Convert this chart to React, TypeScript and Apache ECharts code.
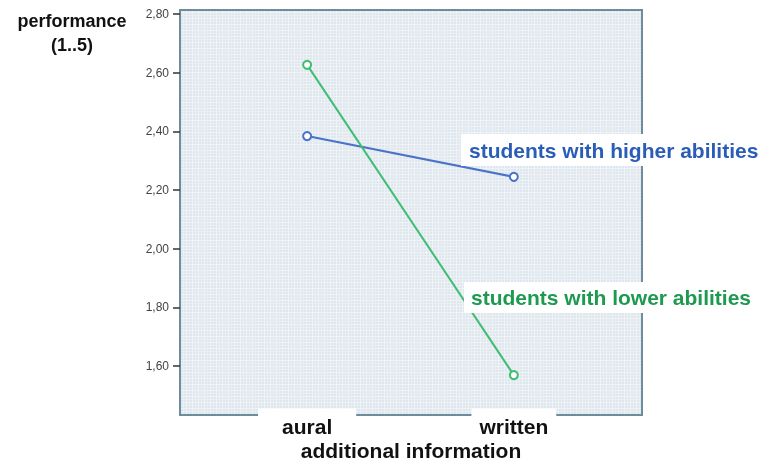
import React, { useEffect, useRef } from "react";
import * as echarts from "echarts";

const categories = ["aural", "written"];
const higherAbilities = [2.384, 2.245];
const lowerAbilities = [2.627, 1.569];
const yTicks = [1.6, 1.8, 2.0, 2.2, 2.4, 2.6, 2.8];
const seriesNames = ["students with higher abilities", "students with lower abilities"];

function makePattern(): HTMLCanvasElement {
  const c = document.createElement("canvas");
  c.width = 6;
  c.height = 6;
  const ctx = c.getContext("2d")!;
  ctx.fillStyle = "#dde7ef";
  ctx.fillRect(0, 0, 6, 6);
  ctx.fillStyle = "#f4f2f3";
  ctx.fillRect(0, 0, 6, 1);
  ctx.fillRect(0, 0, 1, 6);
  ctx.fillStyle = "#eaeff3";
  ctx.fillRect(3, 0, 1, 6);
  ctx.fillRect(0, 3, 6, 1);
  return c;
}

const FONT = "Liberation Sans, Arial, sans-serif";

export default function App() {
  const ref = useRef<HTMLDivElement>(null);
  useEffect(() => {
    if (!ref.current) return;
    const chart = echarts.init(ref.current, undefined, { renderer: "svg" });
    const xs = categories.map((_, i) => i);
    chart.setOption({
      animation: false,
      grid: {
        left: 180,
        right: 123,
        top: 10,
        bottom: 48,
        containLabel: false,
        outerBoundsMode: "none",
        show: true,
        backgroundColor: { image: makePattern(), repeat: "repeat" },
        borderColor: "#6f8c9c",
        borderWidth: 2,
      },
      xAxis: {
        type: "value",
        min: -0.615,
        max: 1.62,
        splitLine: { show: false },
        axisLine: { show: true, onZero: false, lineStyle: { color: "#6f8c9c", width: 2 } },
        axisTick: { show: false },
        axisLabel: {
          customValues: xs,
          margin: -2,
          formatter: (v: number) => {
            const i = Math.round(v);
            return i === 0 ? `{a|${categories[0]}}` : `{w|${categories[1]}}`;
          },
          rich: {
            a: {
              fontFamily: FONT,
              fontWeight: "bold",
              fontSize: 21,
              lineHeight: 21,
              color: "#111",
              backgroundColor: "#fff",
              padding: [7, 24, 2, 24],
            },
            w: {
              fontFamily: FONT,
              fontWeight: "bold",
              fontSize: 21,
              lineHeight: 21,
              color: "#111",
              backgroundColor: "#fff",
              padding: [7, 8, 2, 8],
            },
          },
        },
        name: "additional information",
        nameLocation: "middle",
        nameGap: 25,
        nameMoveOverlap: false,
        nameTextStyle: {
          fontFamily: FONT,
          fontWeight: "bold",
          fontSize: 21,
          color: "#111",
        },
        z: 3,
      },
      yAxis: {
        type: "value",
        min: 1.433,
        max: 2.814,
        splitLine: { show: false },
        axisLine: { show: true, onZero: false, lineStyle: { color: "#6f8c9c", width: 2 } },
        axisTick: {
          show: true,
          customValues: yTicks,
          length: 7,
          lineStyle: { color: "#333", width: 1.5 },
        },
        axisLabel: {
          customValues: yTicks,
          margin: 11,
          fontFamily: FONT,
          fontSize: 12,
          color: "#444",
          formatter: (v: number) => v.toFixed(2).replace(".", ","),
        },
      },
      graphic: [
        {
          type: "text",
          x: 72,
          y: 9,
          style: {
            text: "performance\n(1..5)",
            font: "bold 18px 'Liberation Sans', Arial, sans-serif",
            fill: "#111",
            align: "center",
            lineHeight: 24,
          },
        },
        {
          type: "text",
          x: 461,
          y: 134,
          z: 100,
          style: {
            text: seriesNames[0],
            font: "bold 21px 'Liberation Sans', Arial, sans-serif",
            fill: "#2a5db8",
            backgroundColor: "#fff",
            padding: [6, 6, 5, 8],
          },
        },
        {
          type: "text",
          x: 464,
          y: 282,
          z: 100,
          style: {
            text: seriesNames[1],
            font: "bold 21px 'Liberation Sans', Arial, sans-serif",
            fill: "#1e9a50",
            backgroundColor: "#fff",
            padding: [5, 6, 5, 7],
          },
        },
      ],
      series: [
        {
          name: seriesNames[0],
          type: "line",
          data: xs.map((x, i) => [x, higherAbilities[i]]),
          symbol: "emptyCircle",
          symbolSize: 8,
          lineStyle: { color: "#4a72c8", width: 2 },
          itemStyle: { color: "#4a72c8", borderWidth: 1.5 },
        },
        {
          name: seriesNames[1],
          type: "line",
          data: xs.map((x, i) => [x, lowerAbilities[i]]),
          symbol: "emptyCircle",
          symbolSize: 8,
          lineStyle: { color: "#3fbd72", width: 2 },
          itemStyle: { color: "#3fbd72", borderWidth: 1.5 },
        },
      ],
    });
    return () => chart.dispose();
  }, []);
  return <div ref={ref} style={{ position: "fixed", left: 0, top: 0, width: 765, height: 463 }} />;
}
